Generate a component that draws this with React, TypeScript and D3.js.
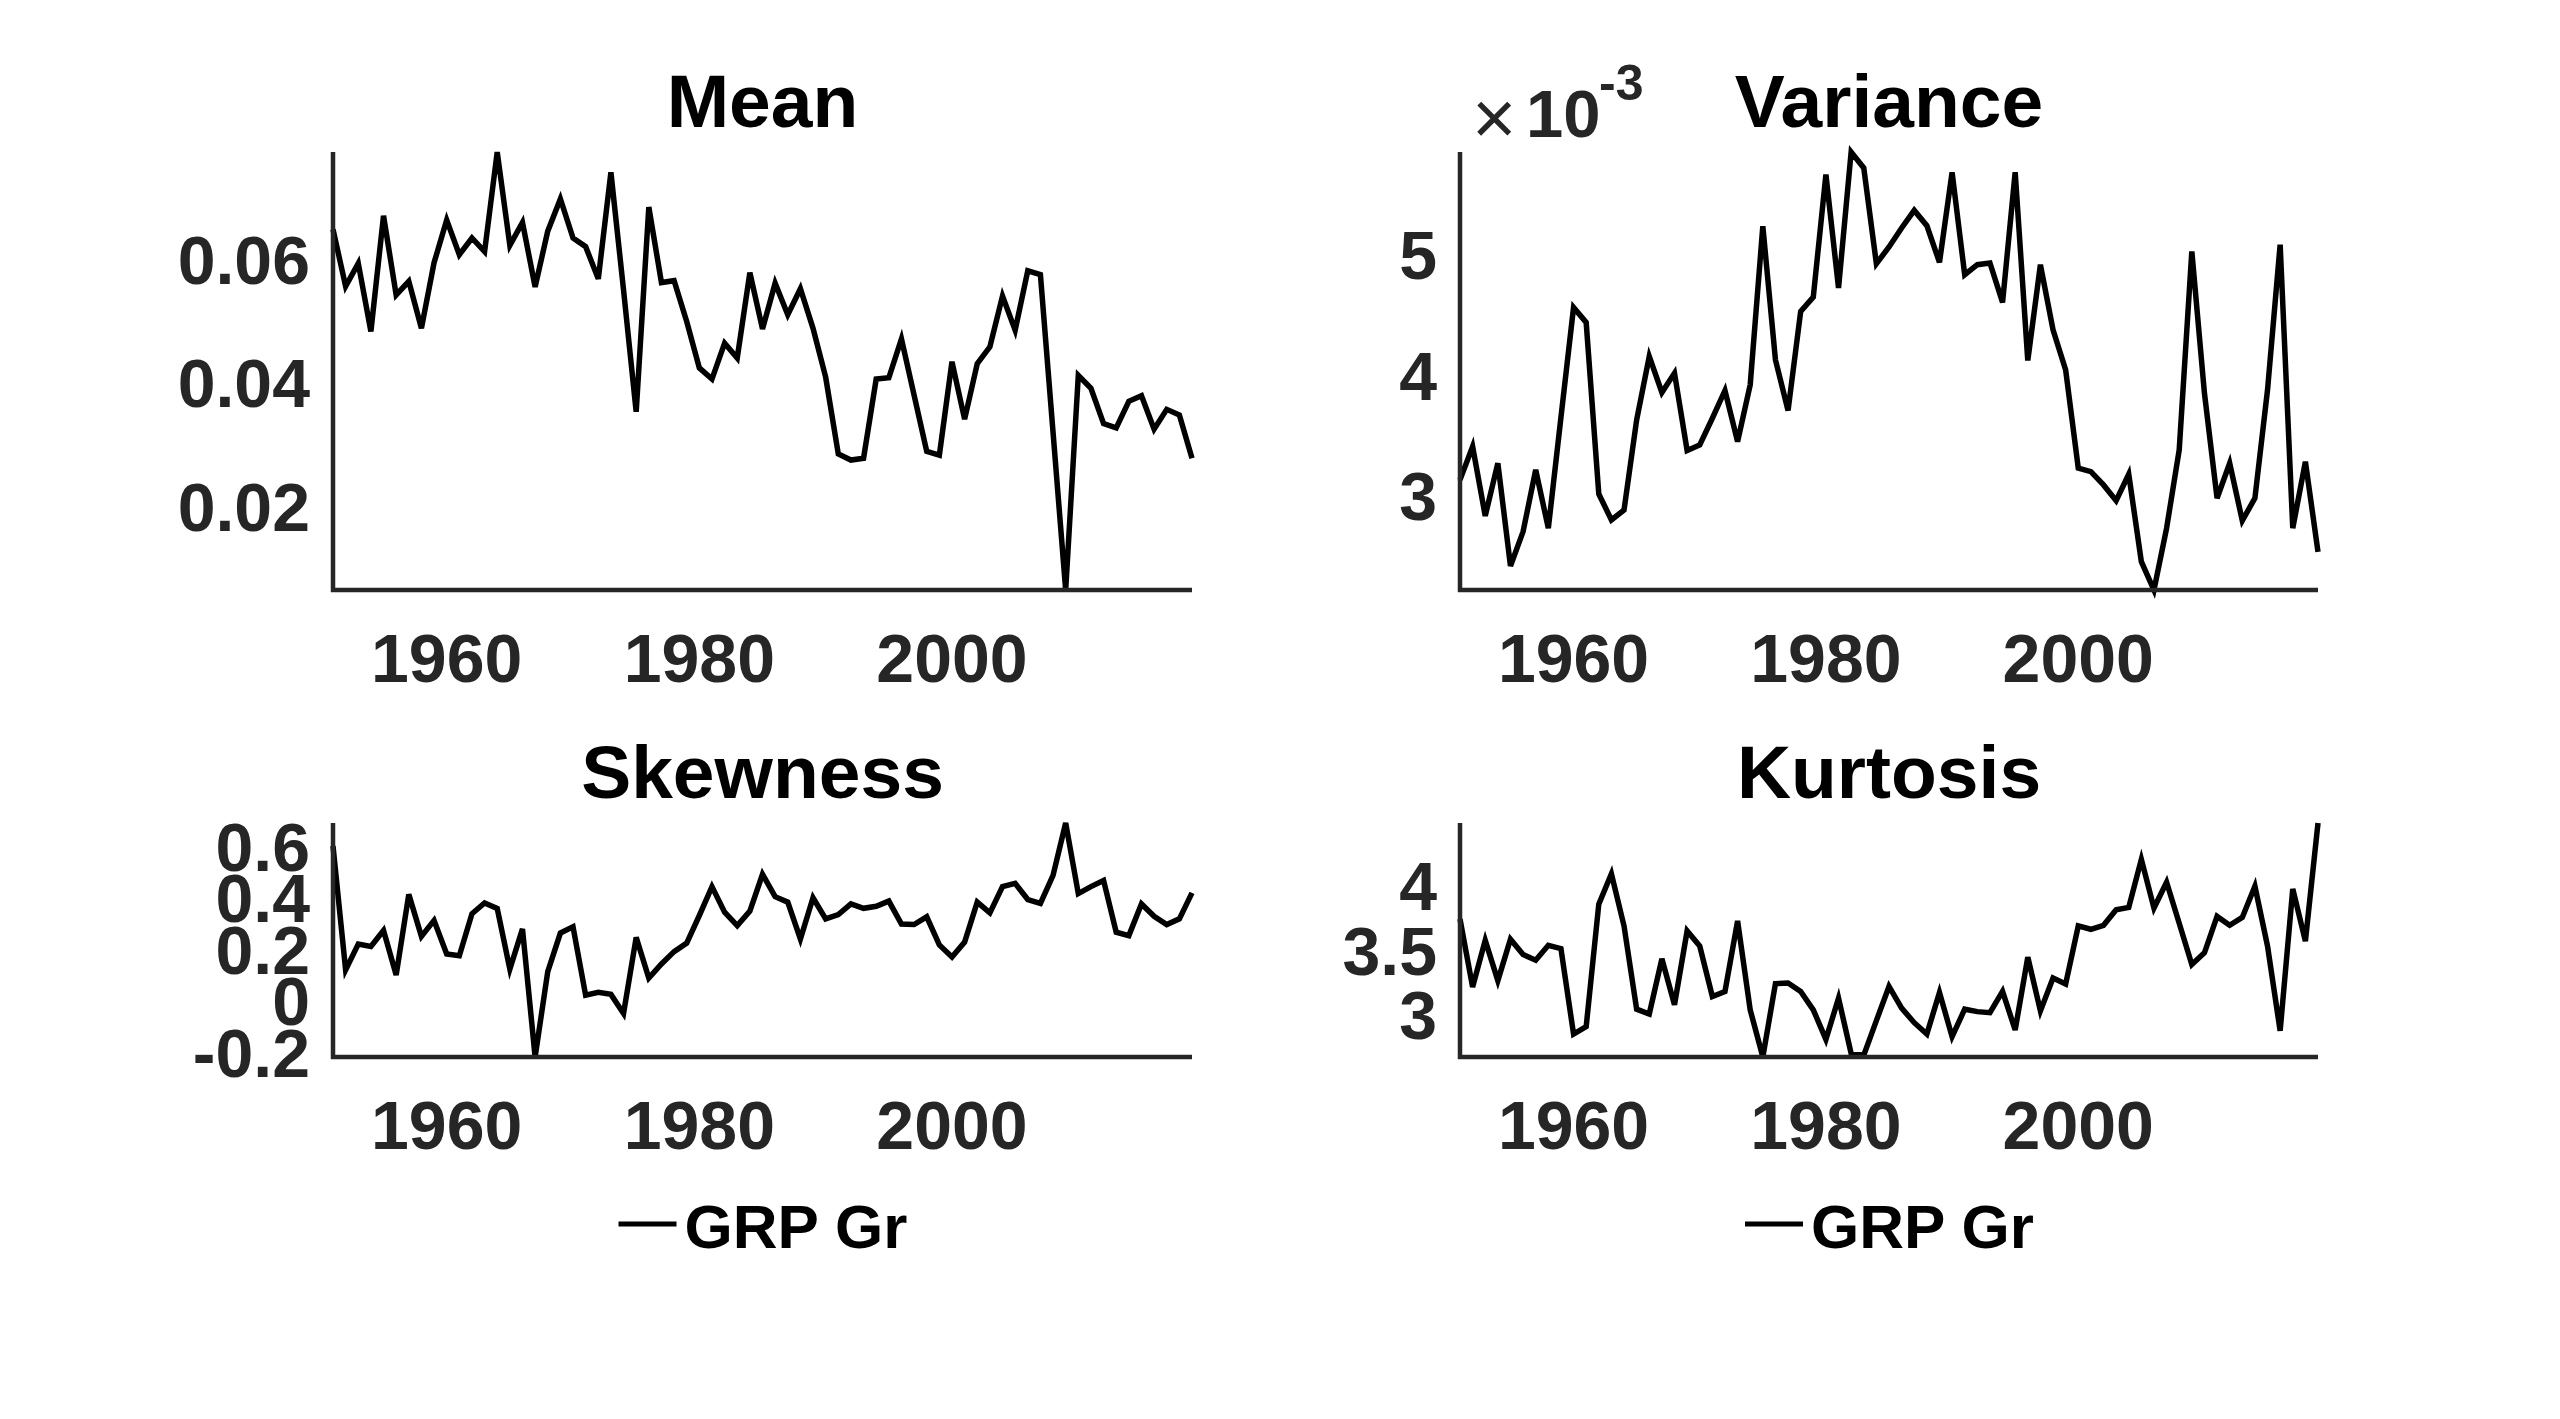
import * as d3 from "d3";

// years on the x axis
const years = d3.range(1951, 2020);
const xTicks = [1960, 1980, 2000];

// panel series, one value per year 1951..2019
const meanValues = [
  0.0648, 0.0556, 0.0593, 0.0483, 0.067, 0.0542, 0.0564, 0.0488, 0.0594, 0.0663,
  0.0607, 0.0634, 0.0612, 0.0773, 0.0622, 0.0659, 0.0555, 0.0645, 0.0697, 0.0634,
  0.062, 0.0568, 0.074, 0.055, 0.0353, 0.0684, 0.0562, 0.0565, 0.0499, 0.0424,
  0.0406, 0.0464, 0.044, 0.0578, 0.0487, 0.0561, 0.051, 0.0552, 0.0488, 0.0409,
  0.0285, 0.0275, 0.0278, 0.0406, 0.0408, 0.0471, 0.038, 0.0289, 0.0283, 0.0434,
  0.0341, 0.0431, 0.0458, 0.054, 0.0485, 0.0581, 0.0575, 0.032, 0.0065, 0.0412,
  0.0391, 0.0334, 0.0327, 0.037, 0.0379, 0.0325, 0.0357, 0.0348, 0.0278,
];

// variance in units of 1e-3
const varianceValues = [
  3.132, 3.408, 2.833, 3.27, 2.418, 2.703, 3.215, 2.731, 3.65, 4.561,
  4.437, 3.015, 2.8, 2.882, 3.629, 4.155, 3.856, 4.017, 3.375, 3.422,
  3.643, 3.873, 3.449, 3.92, 5.234, 4.127, 3.707, 4.528, 4.648, 5.663,
  4.722, 5.85, 5.718, 4.924, 5.063, 5.22, 5.366, 5.239, 4.935, 5.682,
  4.833, 4.916, 4.93, 4.603, 5.682, 4.122, 4.916, 4.376, 4.044, 3.229,
  3.2, 3.09, 2.96, 3.179, 2.454, 2.219, 2.731, 3.38, 5.026, 3.851,
  2.98, 3.27, 2.794, 2.98, 3.878, 5.082, 2.731, 3.283, 2.536,
];

const skewnessValues = [
  0.601, 0.12, 0.22, 0.211, 0.273, 0.1, 0.413, 0.25, 0.312, 0.182,
  0.175, 0.338, 0.38, 0.358, 0.123, 0.279, -0.218, 0.113, 0.263, 0.287,
  0.022, 0.033, 0.025, -0.049, 0.246, 0.088, 0.143, 0.191, 0.224, 0.331,
  0.443, 0.344, 0.292, 0.348, 0.491, 0.404, 0.383, 0.24, 0.4, 0.318,
  0.335, 0.376, 0.359, 0.367, 0.387, 0.298, 0.296, 0.326, 0.217, 0.17,
  0.228, 0.383, 0.341, 0.443, 0.456, 0.393, 0.378, 0.487, 0.69, 0.416,
  0.443, 0.467, 0.266, 0.253, 0.376, 0.328, 0.296, 0.318, 0.419,
];

const kurtosisValues = [
  3.742, 3.214, 3.577, 3.263, 3.585, 3.467, 3.422, 3.538, 3.512, 2.847,
  2.905, 3.859, 4.095, 3.689, 3.041, 3.004, 3.433, 3.075, 3.65, 3.532,
  3.14, 3.179, 3.728, 3.036, 2.669, 3.24, 3.245, 3.179, 3.036, 2.806,
  3.127, 2.696, 2.683, 2.952, 3.218, 3.049, 2.936, 2.847, 3.171, 2.827,
  3.041, 3.022, 3.014, 3.179, 2.879, 3.446, 3.028, 3.284, 3.237, 3.689,
  3.663, 3.694, 3.814, 3.833, 4.207, 3.828, 4.029, 3.71, 3.389, 3.48,
  3.763, 3.694, 3.755, 3.998, 3.532, 2.873, 3.977, 3.571, 4.49,
];

const meanTicks = [0.02, 0.04, 0.06];
const meanTickLabels = ["0.02", "0.04", "0.06"];
const varianceTicks = [3, 4, 5];
const varianceTickLabels = ["3", "4", "5"];
const skewnessTicks = [-0.2, 0, 0.2, 0.4, 0.6];
const skewnessTickLabels = ["-0.2", "0", "0.2", "0.4", "0.6"];
const kurtosisTicks = [3, 3.5, 4];
const kurtosisTickLabels = ["3", "3.5", "4"];

const legendLabel = "GRP Gr";

const FONT = '"Liberation Sans", Arial, Helvetica, sans-serif';
const AXIS = "#262626";

type Box = { x0: number; x1: number; y0: number; y1: number };

function Panel({
  title,
  values,
  ticks,
  tickLabels,
  box,
  legend,
  exponent,
}: {
  title: string;
  values: number[];
  ticks: number[];
  tickLabels: string[];
  box: Box;
  legend?: boolean;
  exponent?: string;
}) {
  const { x0, x1, y0, y1 } = box;
  const x = d3.scaleLinear().domain([years[0], years[years.length - 1]]).range([x0, x1]);
  const ext = d3.extent(values) as [number, number];
  const y = d3.scaleLinear().domain(ext).range([y1, y0]);
  const line = d3
    .line<number>()
    .x((_, i) => x(years[i]))
    .y((d) => y(d));
  const cx = (x0 + x1) / 2;

  return (
    <g fontFamily={FONT} fontWeight="bold">
      <text x={cx} y={y0 - 25} textAnchor="middle" fontSize={75} fill="#000">
        {title}
      </text>
      {exponent && (
        // axis exponent label (x10^-3), top left of the axes
        <g fill={AXIS}>
          <text x={x0 + 12} y={y0 - 8} fontSize={76} fontWeight="normal">
            ×
          </text>
          <text x={x0 + 66} y={y0 - 15} fontSize={67}>
            10
          </text>
          <text x={x0 + 139} y={y0 - 52} fontSize={50}>
            {exponent}
          </text>
        </g>
      )}
      {ticks.map((t, i) => (
        <text
          key={"y" + t}
          x={x0 - 23}
          y={y(t)}
          dy="0.36em"
          textAnchor="end"
          fontSize={68}
          fill={AXIS}
        >
          {tickLabels[i]}
        </text>
      ))}
      {xTicks.map((t) => (
        <text key={"x" + t} x={x(t)} y={y1 + 92} textAnchor="middle" fontSize={68} fill={AXIS}>
          {t}
        </text>
      ))}
      <path d={line(values) ?? ""} fill="none" stroke="#000" strokeWidth={5.5} />
      <line x1={x0} x2={x0} y1={y0} y2={y1 + 2} stroke={AXIS} strokeWidth={4.5} />
      <line x1={x0 - 2} x2={x1} y1={y1} y2={y1} stroke={AXIS} strokeWidth={4.5} />
      {legend && (
        <g>
          <line x1={cx - 144} x2={cx - 86} y1={1224} y2={1224} stroke="#000" strokeWidth={5} />
          <text x={cx - 78} y={1248} fontSize={62} fill="#000">
            {legendLabel}
          </text>
        </g>
      )}
    </g>
  );
}

export default function App() {
  return (
    <svg
      width={2560}
      height={1419}
      style={{ position: "absolute", left: 0, top: 0, display: "block", background: "#fff" }}
    >
      <rect width={2560} height={1419} fill="#fff" />
      <Panel
        title="Mean"
        values={meanValues}
        ticks={meanTicks}
        tickLabels={meanTickLabels}
        box={{ x0: 333, x1: 1192, y0: 152, y1: 590 }}
      />
      <Panel
        title="Variance"
        values={varianceValues}
        ticks={varianceTicks}
        tickLabels={varianceTickLabels}
        box={{ x0: 1460, x1: 2318, y0: 152, y1: 590 }}
        exponent="-3"
      />
      <Panel
        title="Skewness"
        values={skewnessValues}
        ticks={skewnessTicks}
        tickLabels={skewnessTickLabels}
        box={{ x0: 333, x1: 1192, y0: 823, y1: 1057 }}
        legend
      />
      <Panel
        title="Kurtosis"
        values={kurtosisValues}
        ticks={kurtosisTicks}
        tickLabels={kurtosisTickLabels}
        box={{ x0: 1460, x1: 2318, y0: 823, y1: 1057 }}
        legend
      />
    </svg>
  );
}
